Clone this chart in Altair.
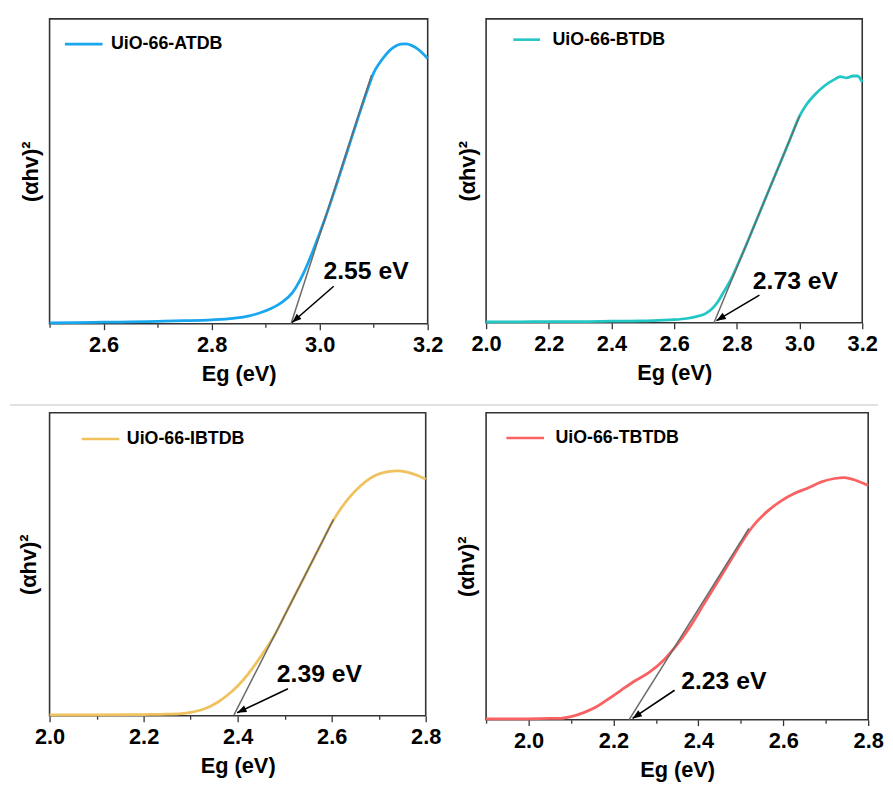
import math
import altair as alt
import pandas as pd

FONT = "Liberation Sans"

# ---------------- data ----------------
# Panel 1: UiO-66-ATDB
atdb_name = "UiO-66-ATDB"
atdb_E = [2.50, 2.55, 2.60, 2.65, 2.70, 2.75, 2.80, 2.84, 2.87, 2.89, 2.91, 2.93,
          2.95, 2.97, 2.99, 3.01, 3.03, 3.05, 3.07, 3.09, 3.10, 3.11, 3.12, 3.13,
          3.14, 3.15, 3.16, 3.17, 3.18, 3.19, 3.20]
atdb_A = [0.003, 0.004, 0.005, 0.006, 0.008, 0.010, 0.013, 0.018, 0.026, 0.036, 0.050, 0.070,
          0.103, 0.165, 0.250, 0.345, 0.450, 0.560, 0.670, 0.775, 0.823, 0.853, 0.877, 0.897,
          0.910, 0.917, 0.918, 0.913, 0.903, 0.888, 0.870]
atdb_ticks = [2.5, 2.6, 2.7, 2.8, 2.9, 3.0, 3.1, 3.2]
atdb_tangent = [2.947, 0.0, 3.096, 0.816]
atdb_arrow = [3.026, 0.123, 2.949, 0.004]
atdb_label = "2.55 eV"
atdb_label_at = [3.086, 0.172]

# Panel 2: UiO-66-BTDB
btdb_name = "UiO-66-BTDB"
btdb_E = [2.00, 2.10, 2.20, 2.30, 2.40, 2.50, 2.55, 2.60, 2.64, 2.67, 2.70, 2.72,
          2.74, 2.76, 2.78, 2.80, 2.82, 2.85, 2.88, 2.91, 2.94, 2.97, 3.00, 3.02,
          3.05, 3.08, 3.11, 3.13, 3.15, 3.17, 3.185, 3.20]
btdb_A = [0.003, 0.003, 0.004, 0.004, 0.005, 0.006, 0.008, 0.010, 0.014, 0.020, 0.030, 0.045,
          0.070, 0.105, 0.140, 0.185, 0.232, 0.306, 0.381, 0.456, 0.530, 0.605, 0.680, 0.715,
          0.752, 0.780, 0.800, 0.810, 0.806, 0.812, 0.812, 0.792]
btdb_ticks = [2.0, 2.1, 2.2, 2.3, 2.4, 2.5, 2.6, 2.7, 2.8, 2.9, 3.0, 3.1, 3.2]
btdb_tangent = [2.727, 0.0, 3.001, 0.682]
btdb_arrow = [2.872, 0.091, 2.735, 0.007]
btdb_label = "2.73 eV"
btdb_label_at = [2.987, 0.137]

# Panel 3: UiO-66-IBTDB
ibtdb_name = "UiO-66-IBTDB"
ibtdb_E = [2.00, 2.10, 2.20, 2.25, 2.28, 2.30, 2.32, 2.34, 2.36, 2.38, 2.40, 2.42,
           2.44, 2.46, 2.48, 2.50, 2.52, 2.54, 2.56, 2.58, 2.60, 2.62, 2.64, 2.66,
           2.68, 2.70, 2.72, 2.74, 2.76, 2.78, 2.80]
ibtdb_A = [0.003, 0.003, 0.004, 0.005, 0.007, 0.011, 0.018, 0.030, 0.047, 0.070, 0.098, 0.133,
           0.175, 0.220, 0.270, 0.331, 0.392, 0.453, 0.514, 0.575, 0.636, 0.685, 0.725, 0.757,
           0.782, 0.798, 0.806, 0.808, 0.804, 0.795, 0.781]
ibtdb_ticks = [2.0, 2.1, 2.2, 2.3, 2.4, 2.5, 2.6, 2.7, 2.8]
ibtdb_tangent = [2.392, 0.002, 2.604, 0.648]
ibtdb_arrow = [2.507, 0.089, 2.399, 0.010]
ibtdb_label = "2.39 eV"
ibtdb_label_at = [2.574, 0.138]

# Panel 4: UiO-66-TBTDB
tbtdb_name = "UiO-66-TBTDB"
tbtdb_E = [1.90, 1.95, 2.00, 2.05, 2.07, 2.10, 2.13, 2.16, 2.19, 2.22, 2.25, 2.285,
           2.317, 2.348, 2.379, 2.41, 2.441, 2.472, 2.503, 2.52, 2.534, 2.55, 2.565, 2.596,
           2.627, 2.658, 2.69, 2.721, 2.744, 2.767, 2.80]
tbtdb_A = [0.003, 0.003, 0.003, 0.004, 0.004, 0.010, 0.023, 0.042, 0.069, 0.098, 0.126, 0.155,
           0.192, 0.241, 0.300, 0.370, 0.440, 0.510, 0.580, 0.615, 0.640, 0.663, 0.682, 0.714,
           0.738, 0.755, 0.775, 0.786, 0.789, 0.782, 0.763]
tbtdb_ticks = [1.9, 2.0, 2.1, 2.2, 2.3, 2.4, 2.5, 2.6, 2.7, 2.8]
tbtdb_tangent = [2.237, 0.0, 2.519, 0.623]
tbtdb_arrow = [2.344, 0.096, 2.245, 0.004]
tbtdb_label = "2.23 eV"
tbtdb_label_at = [2.46, 0.126]

ARROW_HEAD = "M0,0L-1,2.6L1,2.6Z"


def panel(name, E, A, color, ticks, tangent, arrow, label, label_at,
          W, H, ypad, leg_x, leg_y, leg_len, leg_off, separator=False):
    xdom = [ticks[0], ticks[-1]]
    xs = alt.Scale(domain=xdom, nice=False, zero=False)
    ys = alt.Scale(domain=[0, 1], nice=False, zero=False)
    xaxis = alt.Axis(
        values=ticks,
        labelExpr="abs(round(datum.value*10)) % 2 == 0 ? format(datum.value, '.1f') : ''",
        title="Eg (eV)", titleFont=FONT, titleFontSize=22, titleFontWeight="bold",
        titleColor="black", titlePadding=8,
        labelFont=FONT, labelFontSize=22, labelFontWeight="bold", labelColor="black",
        labelFlush=False, labelOverlap=False, labelPadding=5,
        tickColor="#333333", tickWidth=1.3,
        tickSize={"condition": {"test": "abs(round(datum.value*10)) % 2 == 0", "value": 6}, "value": 3.5},
        domain=False, grid=False,
    )
    yaxis = alt.Axis(title="(αhv)²", labels=False, ticks=False, domain=False, grid=False,
                     titleFont=FONT, titleFontSize=22, titleFontWeight="bold",
                     titleColor="black", titlePadding=ypad)
    df = pd.DataFrame({"E": E, "A": A, "series": name})
    line = alt.Chart(df).mark_line(strokeWidth=2.8, interpolate="monotone").encode(
        x=alt.X("E:Q", scale=xs, axis=xaxis),
        y=alt.Y("A:Q", scale=ys, axis=yaxis),
        color=alt.Color("series:N", scale=alt.Scale(domain=[name], range=[color]),
                        legend=alt.Legend(orient="none", legendX=leg_x, legendY=leg_y,
                                          title=None, symbolType="stroke",
                                          symbolSize=leg_len * leg_len, symbolStrokeWidth=2.6,
                                          labelFont=FONT, labelFontSize=18,
                                          labelFontWeight="bold", labelColor="black",
                                          labelOffset=leg_off, padding=0)),
    )
    tdf = pd.DataFrame({"x1": [tangent[0]], "y1": [tangent[1]],
                        "x2": [tangent[2]], "y2": [tangent[3]]})
    tan = alt.Chart(tdf).mark_rule(color="#6a6a6a", strokeWidth=1.5).encode(
        x=alt.X("x1:Q", scale=xs), y=alt.Y("y1:Q", scale=ys),
        x2="x2:Q", y2="y2:Q")
    adf = pd.DataFrame({"x1": [arrow[0]], "y1": [arrow[1]],
                        "x2": [arrow[2]], "y2": [arrow[3]]})
    shaft = alt.Chart(adf).mark_rule(color="black", strokeWidth=1.6).encode(
        x=alt.X("x1:Q", scale=xs), y=alt.Y("y1:Q", scale=ys),
        x2="x2:Q", y2="y2:Q")
    # direction of the arrow in screen pixels
    dx = (arrow[2] - arrow[0]) / (xdom[1] - xdom[0]) * W
    dy = -(arrow[3] - arrow[1]) * H
    ang = math.degrees(math.atan2(dx, -dy)) % 360
    head = alt.Chart(adf).mark_point(shape=ARROW_HEAD, size=52, filled=True, color="black",
                                     opacity=1, angle=ang, strokeWidth=0).encode(
        x=alt.X("x2:Q", scale=xs), y=alt.Y("y2:Q", scale=ys))
    ldf = pd.DataFrame({"x": [label_at[0]], "y": [label_at[1]], "t": [label]})
    txt = alt.Chart(ldf).mark_text(font=FONT, fontSize=25, fontWeight="bold", color="black",
                                   align="center", baseline="middle").encode(
        x=alt.X("x:Q", scale=xs), y=alt.Y("y:Q", scale=ys), text="t:N")
    layers = [line, tan, shaft, head, txt]
    if separator:
        # thin light-grey divider between the two rows of the figure
        sep = alt.Chart(pd.DataFrame({"k": [0]})).mark_rule(
            color="#d6d6d6", strokeWidth=1.5).encode(
            x=alt.value(-40), x2=alt.value(837), y=alt.value(-8))
        layers.append(sep)
    return alt.layer(*layers).properties(width=W, height=H)


p1 = panel(atdb_name, atdb_E, atdb_A, "#18A6EE", atdb_ticks, atdb_tangent, atdb_arrow,
           atdb_label, atdb_label_at, 382, 308, 7, 14, 5, 38, 7)
p2 = panel(btdb_name, btdb_E, btdb_A, "#22C6C4", btdb_ticks, btdb_tangent, btdb_arrow,
           btdb_label, btdb_label_at, 380, 307, 7, 26, 6, 27, 11)
p3 = panel(ibtdb_name, ibtdb_E, ibtdb_A, "#F0C25E", ibtdb_ticks, ibtdb_tangent, ibtdb_arrow,
           ibtdb_label, ibtdb_label_at, 380, 306, 9, 31, 6, 38, 6, separator=True)
p4 = panel(tbtdb_name, tbtdb_E, tbtdb_A, "#F96262", tbtdb_ticks, tbtdb_tangent, tbtdb_arrow,
           tbtdb_label, tbtdb_label_at, 386, 310, 8, 19, 5, 38, 10)

chart = alt.concat(p1, p2, p3, p4, columns=2, spacing={"row": 90, "column": 59},
                   bounds="flush").resolve_scale(
    x="independent", y="independent", color="independent").resolve_legend(
    color="independent").properties(
    padding={"left": 0, "top": 6, "right": 0, "bottom": 0}
).configure_view(stroke="#333333", strokeWidth=1.6)

chart.save("out.html", embed_options={"renderer": "svg", "actions": False})
